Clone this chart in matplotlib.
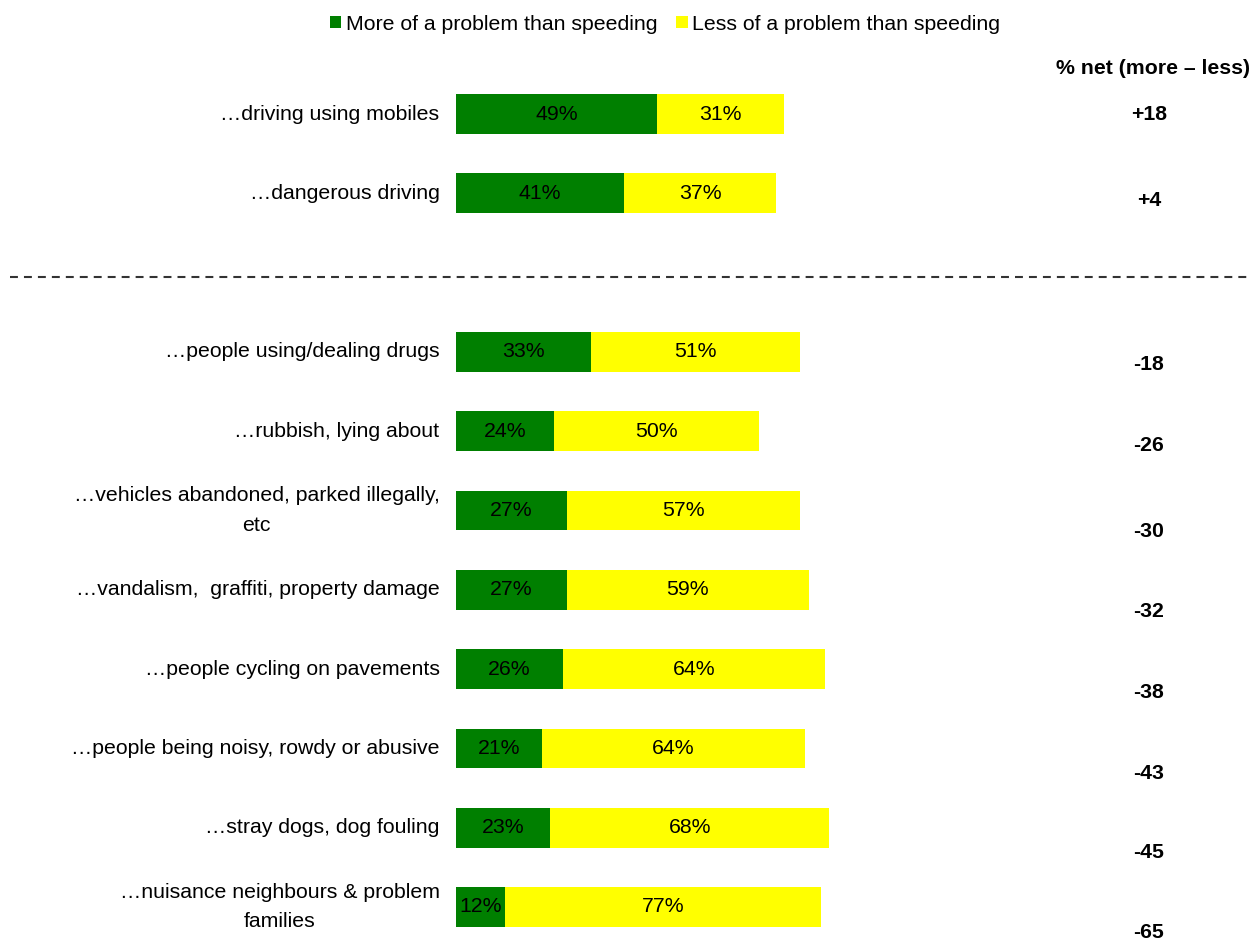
import numpy as np
import matplotlib.pyplot as plt
from matplotlib.lines import Line2D

plt.rcParams['font.family'] = ['Liberation Sans', 'DejaVu Sans']

labels = ["\u2026driving using mobiles",
          "\u2026dangerous driving",
          "\u2026people using/dealing drugs",
          "\u2026rubbish, lying about",
          "\u2026vehicles abandoned, parked illegally,\netc",
          "\u2026vandalism,  graffiti, property damage",
          "\u2026people cycling on pavements",
          "\u2026people being noisy, rowdy or abusive",
          "\u2026stray dogs, dog fouling",
          "\u2026nuisance neighbours & problem\nfamilies"]
more = [49, 41, 33, 24, 27, 27, 26, 21, 23, 12]
less = [31, 37, 51, 50, 57, 59, 64, 64, 68, 77]

green = "#007f00"
yellow = "#ffff00"

# row positions: gap after the first two rows
pos = np.array([0, 1, 3, 4, 5, 6, 7, 8, 9, 10])
# net labels sit a little below each bar (in px)
net_drop = np.array([1, 7, 13, 14, 21, 22, 23, 25, 25, 26]) / 79.3

fig = plt.figure(figsize=(12.55, 9.43), dpi=100)
# y: pos 0 at 114px, pos 10 at 907px
top_px, px_per = 114, 79.3
y0 = (943 - (top_px - 0.5 * px_per)) / 943
y1 = (943 - (top_px + 10.5 * px_per)) / 943
ax = fig.add_axes([456 / 1255, y1, 410 / 1255, y0 - y1])
ax.set_xlim(0, 100)
ax.set_ylim(10.5, -0.5)
ax.axis('off')

ax.barh(pos, more, height=0.5, color=green, label="More of a problem than speeding")
ax.barh(pos, less, left=more, height=0.5, color=yellow, label="Less of a problem than speeding")

fs = 15.3
for p, m, l, lab in zip(pos, more, less, labels):
    ax.text(m / 2, p, f"{m}%", ha='center', va='center', fontsize=fs)
    ax.text(m + l / 2, p, f"{l}%", ha='center', va='center', fontsize=fs)
    ax.text(-4, p, lab, ha='right', va='center', fontsize=fs,
            multialignment='center', linespacing=1.72)

net = [m - l for m, l in zip(more, less)]
for p, n, d in zip(pos, net, net_drop):
    ax.text(169, p + d, f"{n:+d}", ha='center', va='center', fontsize=fs, fontweight='bold')

fig.text(1250 / 1255, 1 - 68 / 943, "% net (more \u2013 less)", ha='right', va='center',
         fontsize=fs, fontweight='bold')

# dashed separator across the whole figure
fig.add_artist(Line2D([10 / 1255, 1250 / 1255], [1 - 277 / 943, 1 - 277 / 943],
                      color='#333333', lw=1.5, dashes=(3.8, 2.9)))

fig.legend(loc='center', bbox_to_anchor=(665 / 1255, 1 - 24 / 943), ncol=2, frameon=False,
           fontsize=fs, handlelength=0.55, handleheight=0.55, handletextpad=0.2,
           columnspacing=0.9)

fig.savefig("out.png", dpi=100)
